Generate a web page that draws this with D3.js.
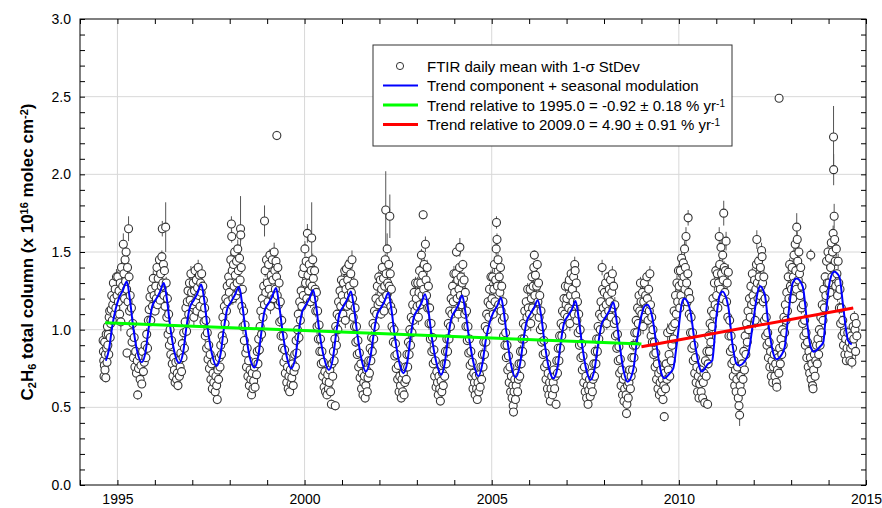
<!DOCTYPE html>
<html>
<head>
<meta charset="utf-8">
<script src="https://cdn.jsdelivr.net/npm/d3@7"></script>
<style>
  body { margin: 0; background: #fff; }
  svg { display: block; font-family: "Liberation Sans", Arial, sans-serif; }
</style>
</head>
<body>
<script>
// FTIR daily means, one array per year: [day of year, column (1e16 molec/cm2), 1-sigma StDev]
const obs1994 = [[226,.93,.03],[229,.86,.02],[232,.80,.03],[235,.70,.02],[238,.77,.03],[241,.92,.03],[244,.74,.04],[248,.84,.02],[252,.69,.03],[256,.97,.04],[260,.88,.03],[264,.79,.02],[268,1.02,.05],[272,.90,.03],[276,.97,.03],[281,.84,.02],[285,1.08,.04],[290,1.12,.03],[295,.95,.05],[300,1.04,.03],[305,1.13,.04],[310,1.22,.04],[315,1.06,.06],[320,1.16,.03],[326,1.30,.05],[332,1.20,.04],[338,1.10,.03],[344,1.26,.04],[350,1.14,.03],[356,1.34,.05],[362,1.22,.03]];
const obs1995 = [[4,1.34,.04],[10,1.18,.03],[16,1.25,.05],[22,1.10,.03],[28,1.30,.04],[34,1.05,.06],[40,1.40,.05],[46,1.22,.03],[52,1.28,.03],[58,1.55,.07],[64,1.36,.04],[70,1.20,.03],[75,1.45,.06],[80,1.31,.04],[85,1.50,.05],[90,1.26,.03],[94,.85,.03],[99,1.40,.04],[104,1.18,.05],[109,1.65,.08],[114,1.34,.05],[119,1.12,.03],[125,1.22,.04],[131,.98,.03],[137,1.14,.06],[143,.92,.03],[150,1.04,.04],[157,.82,.03],[164,.95,.03],[171,.76,.02],[178,.86,.03],[186,.72,.02],[194,.80,.03],[198,.58,.03],[206,.75,.02],[214,.83,.03],[222,.68,.02],[230,.77,.03],[238,.65,.02],[246,.86,.03],[254,.73,.02],[262,.79,.03],[270,.90,.03],[278,.82,.02],[286,.97,.04],[294,.88,.03],[302,1.06,.03],[310,1.13,.03],[318,1.21,.05],[326,1.06,.04],[334,1.26,.03],[342,1.15,.04],[350,1.33,.05],[358,1.22,.03]];
const obs1996 = [[3,1.12,.03],[9,1.28,.04],[15,1.20,.03],[21,1.40,.05],[27,1.16,.04],[33,1.33,.03],[39,1.24,.06],[45,1.45,.04],[51,1.19,.03],[57,1.36,.05],[63,1.28,.03],[69,1.47,.04],[73,1.65,.05],[78,1.30,.03],[84,1.42,.06],[89,1.22,.04],[94,1.38,.03],[100,1.15,.05],[106,1.66,.16],[111,1.30,.04],[117,1.08,.03],[123,1.20,.04],[129,.97,.03],[135,1.10,.05],[142,.90,.03],[149,1.00,.03],[156,.84,.02],[163,.93,.03],[170,.78,.02],[177,.70,.03],[184,.82,.02],[191,.74,.03],[198,.66,.02],[205,.79,.03],[212,.68,.03],[219,.72,.02],[226,.64,.03],[233,.80,.02],[240,.70,.03],[247,.76,.02],[254,.85,.03],[261,.73,.02],[268,.91,.04],[275,.82,.03],[282,.98,.03],[289,.88,.04],[296,1.05,.03],[303,1.14,.05],[310,.99,.03],[317,1.18,.04],[324,1.25,.03],[331,1.10,.05],[338,1.30,.04],[345,1.19,.03],[352,1.36,.05],[359,1.24,.04]];
const obs1997 = [[4,1.16,.03],[10,1.30,.04],[16,1.08,.05],[22,1.25,.03],[28,1.38,.04],[34,1.18,.03],[40,1.32,.05],[46,1.12,.04],[52,1.27,.03],[58,1.40,.05],[64,1.22,.03],[70,1.35,.04],[76,1.15,.06],[82,1.30,.03],[87,1.24,.04],[92,1.36,.05],[97,1.10,.03],[103,1.28,.04],[109,1.19,.03],[115,1.05,.05],[121,1.14,.03],[127,.96,.04],[133,1.06,.03],[140,.88,.02],[147,.98,.04],[154,.81,.03],[161,.90,.02],[168,.75,.03],[175,.84,.02],[182,.68,.03],[189,.78,.02],[196,.62,.03],[203,.72,.02],[210,.66,.03],[217,.80,.02],[224,.60,.03],[231,.70,.02],[238,.64,.03],[244,.55,.03],[250,.74,.02],[257,.68,.03],[264,.82,.03],[271,.76,.02],[278,.90,.04],[285,.84,.03],[292,.96,.03],[299,1.08,.04],[306,.93,.03],[313,1.15,.05],[320,1.04,.03],[327,1.20,.04],[334,1.12,.03],[341,1.28,.05],[348,1.18,.04],[355,1.34,.04],[362,1.24,.03]];
const obs1998 = [[5,1.30,.04],[11,1.45,.05],[17,1.68,.05],[20,1.60,.04],[25,1.38,.03],[31,1.20,.04],[37,1.42,.05],[43,1.28,.03],[49,1.50,.04],[55,1.35,.03],[61,1.22,.05],[67,1.44,.04],[73,1.30,.03],[79,1.52,.06],[85,1.38,.04],[90,1.25,.03],[96,1.46,.05],[102,1.32,.04],[106,1.65,.21],[108,1.61,.04],[113,1.40,.03],[118,1.15,.04],[124,1.26,.03],[130,1.02,.05],[136,1.12,.03],[143,.93,.04],[150,1.03,.03],[157,.85,.02],[164,.76,.03],[171,.88,.02],[178,.70,.03],[185,.80,.02],[192,.64,.03],[199,.74,.02],[206,.68,.03],[213,.58,.02],[220,.72,.03],[227,.62,.02],[234,.67,.03],[241,.76,.02],[248,.63,.03],[255,.79,.02],[262,.71,.03],[269,.86,.03],[276,.78,.02],[283,.94,.04],[290,.87,.03],[297,1.02,.03],[304,1.12,.05],[311,.97,.03],[318,1.20,.04],[325,1.08,.03],[332,1.28,.05],[339,1.16,.04],[340,1.70,.10],[346,1.38,.04],[352,1.24,.03],[359,1.45,.05]];
const obs1999 = [[3,1.30,.04],[9,1.18,.03],[15,1.42,.05],[21,1.26,.03],[27,1.48,.04],[33,1.15,.05],[39,1.35,.03],[45,1.22,.04],[51,1.45,.05],[57,1.32,.03],[63,1.20,.04],[69,1.50,.06],[75,1.38,.03],[81,1.26,.04],[87,1.44,.05],[92,1.34,.03],[95,2.25,.03],[99,1.22,.04],[105,1.40,.05],[111,1.16,.03],[117,1.30,.04],[123,1.05,.03],[129,1.18,.05],[136,.96,.03],[143,1.06,.04],[150,.88,.02],[157,.96,.03],[164,.79,.02],[171,.87,.03],[178,.72,.02],[185,.82,.03],[192,.66,.02],[199,.76,.03],[206,.62,.02],[213,.70,.03],[220,.60,.02],[227,.74,.03],[234,.65,.02],[241,.69,.03],[248,.78,.02],[255,.64,.03],[262,.73,.02],[269,.84,.03],[276,.76,.02],[283,.93,.04],[290,.85,.03],[297,1.00,.03],[304,1.10,.04],[311,.95,.03],[318,1.18,.05],[325,1.06,.03],[332,1.25,.04],[339,1.15,.03],[346,1.36,.05],[353,1.22,.04],[360,1.40,.04]];
const obs2000 = [[4,1.52,.05],[10,1.30,.04],[16,1.44,.03],[22,1.20,.05],[28,1.62,.06],[34,1.35,.04],[40,1.25,.03],[46,1.42,.05],[52,1.30,.03],[58,1.18,.04],[64,1.38,.05],[70,1.59,.23],[74,1.28,.03],[80,1.45,.04],[86,1.33,.03],[92,1.20,.05],[98,1.38,.04],[104,1.26,.03],[110,1.12,.04],[116,1.24,.03],[122,1.02,.05],[128,1.12,.03],[135,.94,.04],[142,1.03,.03],[149,.86,.02],[156,.94,.03],[163,.78,.02],[170,.86,.03],[177,.70,.02],[184,.79,.03],[191,.63,.02],[198,.73,.03],[205,.60,.02],[212,.67,.03],[219,.58,.02],[226,.71,.03],[233,.62,.02],[240,.66,.03],[247,.74,.02],[254,.60,.03],[262,.52,.03],[268,.78,.02],[275,.70,.03],[282,.86,.03],[289,.80,.02],[296,.94,.04],[300,.51,.03],[304,1.02,.03],[311,.90,.04],[318,1.10,.03],[325,1.00,.05],[332,1.18,.04],[339,1.08,.03],[346,1.25,.05],[353,1.15,.03],[360,1.32,.04]];
const obs2001 = [[3,1.22,.04],[9,1.10,.03],[15,1.30,.05],[21,1.18,.03],[27,1.38,.04],[33,1.06,.05],[39,1.26,.03],[44,1.39,.06],[50,1.15,.03],[56,1.32,.04],[62,1.22,.03],[68,1.42,.05],[74,1.28,.04],[80,1.16,.03],[86,1.36,.05],[92,1.24,.03],[98,1.45,.06],[104,1.20,.04],[110,1.08,.03],[116,1.30,.05],[122,1.02,.03],[128,1.14,.04],[135,.92,.03],[142,1.02,.04],[149,.84,.02],[156,.93,.03],[163,.76,.02],[170,.85,.03],[177,.69,.02],[184,.78,.03],[191,.62,.02],[198,.72,.03],[205,.58,.02],[212,.66,.03],[219,.70,.02],[226,.56,.03],[233,.64,.02],[240,.74,.03],[247,.60,.02],[254,.69,.03],[261,.80,.02],[268,.72,.03],[275,.88,.03],[282,.80,.02],[289,.95,.04],[296,.86,.03],[303,1.04,.03],[310,.94,.04],[317,1.12,.03],[324,1.02,.05],[331,1.20,.04],[338,1.10,.03],[345,1.28,.05],[352,1.16,.04],[359,1.34,.04]];
const obs2002 = [[4,1.18,.03],[10,1.32,.05],[16,1.10,.03],[22,1.26,.04],[28,1.40,.05],[34,1.20,.03],[40,1.33,.04],[46,1.12,.03],[52,1.28,.05],[57,1.45,.04],[62,1.77,.25],[66,1.36,.04],[71,1.22,.03],[76,1.52,.10],[81,1.30,.04],[86,1.18,.03],[91,1.42,.05],[96,1.28,.04],[102,1.73,.14],[106,1.36,.05],[111,1.15,.03],[117,1.26,.04],[123,1.02,.03],[129,1.12,.05],[136,.92,.03],[143,1.00,.04],[150,.83,.02],[157,.91,.03],[164,.75,.02],[171,.84,.03],[178,.68,.02],[185,.77,.03],[192,.60,.02],[199,.70,.03],[206,.64,.02],[213,.56,.03],[220,.68,.02],[227,.60,.03],[234,.72,.02],[241,.58,.03],[248,.66,.02],[255,.76,.03],[262,.68,.02],[269,.84,.03],[276,.76,.03],[283,.92,.04],[290,.84,.03],[297,1.00,.03],[304,.90,.04],[311,1.08,.03],[318,.98,.05],[325,1.16,.04],[332,1.06,.03],[339,1.24,.05],[346,1.12,.03],[353,1.30,.04],[360,1.20,.03]];
const obs2003 = [[3,1.15,.03],[9,1.30,.04],[15,1.08,.05],[21,1.24,.03],[27,1.38,.04],[33,1.16,.03],[39,1.30,.05],[45,1.48,.04],[51,1.22,.03],[57,1.35,.04],[62,1.74,.03],[67,1.26,.05],[72,1.42,.04],[78,1.18,.03],[84,1.55,.05],[90,1.32,.04],[95,1.22,.03],[101,1.40,.05],[107,1.14,.04],[113,1.28,.03],[119,1.04,.04],[125,1.14,.03],[132,.94,.05],[139,1.04,.03],[146,.86,.02],[153,.95,.03],[160,.78,.02],[167,.87,.03],[174,.70,.02],[181,.80,.03],[188,.63,.02],[195,.73,.03],[202,.66,.02],[209,.58,.03],[216,.70,.02],[223,.62,.03],[230,.54,.02],[237,.67,.03],[244,.60,.02],[251,.72,.03],[258,.64,.02],[265,.78,.03],[272,.70,.02],[279,.86,.04],[286,.78,.03],[293,.94,.03],[300,.86,.04],[307,1.04,.03],[314,.94,.05],[321,1.12,.03],[328,1.02,.04],[335,1.20,.03],[342,1.10,.05],[349,1.28,.04],[356,1.18,.03],[362,1.36,.05]];
const obs2004 = [[4,1.24,.04],[10,1.12,.03],[16,1.36,.05],[22,1.50,.03],[28,1.20,.04],[34,1.32,.03],[40,1.10,.05],[46,1.26,.04],[52,1.40,.03],[55,1.53,.06],[60,1.22,.04],[66,1.34,.03],[72,1.16,.05],[78,1.30,.04],[84,1.42,.03],[90,1.20,.04],[96,1.32,.05],[102,1.10,.03],[108,1.24,.04],[114,1.02,.03],[120,1.12,.05],[127,.93,.03],[134,1.02,.04],[141,.85,.02],[148,.94,.03],[155,.77,.02],[162,.86,.03],[169,.70,.02],[176,.79,.03],[183,.62,.02],[190,.72,.03],[197,.66,.02],[204,.58,.03],[211,.70,.02],[218,.62,.03],[225,.55,.02],[232,.66,.03],[239,.60,.02],[246,.71,.03],[253,.63,.02],[260,.76,.03],[267,.68,.02],[274,.84,.04],[281,.76,.03],[288,.92,.03],[295,.84,.04],[302,1.02,.03],[309,.92,.05],[316,1.10,.03],[323,1.00,.04],[330,1.18,.03],[337,1.08,.05],[344,1.26,.04],[351,1.16,.03],[358,1.34,.04]];
const obs2005 = [[3,1.20,.03],[9,1.34,.05],[15,1.10,.03],[21,1.26,.04],[27,1.42,.05],[33,1.18,.03],[39,1.32,.04],[44,1.52,.05],[47,1.69,.04],[52,1.58,.04],[57,1.28,.03],[62,1.45,.05],[68,1.16,.04],[74,1.34,.03],[80,1.24,.04],[86,1.40,.05],[92,1.12,.03],[98,1.28,.04],[104,1.06,.03],[110,1.18,.05],[116,.96,.03],[122,1.08,.04],[129,.90,.03],[136,.98,.04],[143,.82,.02],[150,.90,.03],[157,.74,.02],[164,.83,.03],[171,.66,.02],[178,.76,.03],[185,.60,.02],[192,.70,.03],[199,.56,.02],[206,.64,.03],[210,.51,.03],[213,.47,.03],[218,.60,.02],[225,.68,.03],[232,.55,.02],[239,.64,.03],[246,.72,.02],[253,.60,.03],[260,.68,.02],[267,.78,.03],[274,.70,.02],[281,.86,.04],[288,.78,.03],[295,.94,.03],[302,.86,.04],[309,1.04,.03],[316,.94,.05],[323,1.12,.03],[330,1.02,.04],[337,1.18,.03],[344,1.08,.05],[351,1.26,.04],[358,1.14,.03]];
const obs2006 = [[4,1.10,.03],[10,1.26,.04],[16,1.04,.05],[22,1.20,.03],[28,1.34,.04],[34,1.14,.03],[40,1.28,.05],[46,1.40,.04],[51,1.48,.03],[56,1.22,.04],[62,1.35,.03],[68,1.12,.05],[74,1.28,.04],[80,1.42,.03],[86,1.18,.04],[92,1.30,.05],[98,1.08,.03],[104,1.22,.04],[110,1.00,.03],[116,1.12,.05],[123,.92,.03],[130,1.02,.04],[137,.84,.02],[144,.93,.03],[151,.76,.02],[158,.85,.03],[165,.68,.02],[172,.78,.03],[179,.62,.02],[186,.72,.03],[193,.58,.02],[200,.66,.03],[207,.54,.02],[214,.62,.03],[221,.70,.02],[228,.58,.03],[235,.66,.02],[242,.74,.03],[249,.62,.02],[256,.70,.03],[263,.52,.03],[270,.80,.02],[277,.72,.03],[284,.88,.03],[291,.80,.04],[298,.96,.03],[305,.88,.04],[312,1.04,.03],[319,.96,.05],[326,1.12,.03],[333,1.02,.04],[340,1.20,.03],[347,1.10,.05],[354,1.28,.04],[361,1.16,.03]];
const obs2007 = [[3,1.20,.04],[9,1.08,.03],[15,1.28,.05],[21,1.14,.03],[27,1.32,.04],[33,1.04,.05],[39,1.22,.03],[45,1.36,.04],[51,1.12,.03],[57,1.26,.05],[63,1.18,.04],[69,1.34,.03],[75,1.10,.04],[80,1.42,.05],[84,1.38,.04],[89,1.22,.03],[95,1.30,.05],[101,1.06,.03],[107,1.18,.04],[113,.98,.03],[119,1.10,.05],[126,.90,.03],[133,1.00,.04],[140,.82,.02],[147,.91,.03],[154,.74,.02],[161,.83,.03],[168,.66,.02],[175,.76,.03],[182,.60,.02],[189,.70,.03],[196,.56,.02],[203,.64,.03],[210,.52,.02],[217,.61,.03],[224,.68,.02],[231,.57,.03],[238,.64,.02],[245,.72,.03],[252,.60,.02],[259,.68,.03],[266,.78,.02],[273,.70,.03],[280,.86,.04],[287,.78,.03],[294,.94,.03],[301,.86,.04],[308,1.02,.03],[315,.94,.05],[322,1.10,.03],[329,1.00,.04],[336,1.18,.03],[343,1.08,.05],[347,1.40,.05],[352,1.26,.04],[359,1.14,.03]];
const obs2008 = [[4,1.24,.04],[10,1.10,.03],[16,1.30,.05],[22,1.16,.03],[28,1.04,.04],[34,1.22,.05],[40,1.34,.03],[46,1.12,.04],[52,1.26,.03],[58,1.18,.05],[64,1.32,.04],[70,1.08,.03],[76,1.24,.04],[82,1.36,.05],[88,1.14,.03],[94,1.28,.04],[100,1.04,.03],[106,1.16,.05],[112,.96,.03],[118,1.06,.04],[125,.88,.03],[132,.97,.04],[139,.80,.02],[146,.89,.03],[153,.72,.02],[160,.81,.03],[167,.64,.02],[174,.74,.03],[181,.58,.02],[188,.68,.03],[195,.54,.02],[202,.62,.03],[209,.70,.02],[216,.58,.03],[220,.46,.03],[224,.52,.02],[230,.64,.03],[237,.56,.02],[244,.66,.03],[251,.74,.02],[258,.62,.03],[265,.70,.03],[272,.82,.02],[279,.74,.03],[286,.90,.04],[293,.82,.03],[300,.98,.03],[307,.90,.04],[314,1.06,.03],[321,.98,.05],[328,1.14,.03],[335,1.04,.04],[342,1.22,.03],[349,1.12,.05],[356,1.30,.04],[362,1.18,.03]];
const obs2009 = [[5,1.10,.03],[11,1.24,.04],[17,1.02,.05],[23,1.18,.03],[29,1.30,.04],[35,1.08,.03],[41,1.22,.05],[47,1.14,.04],[53,1.34,.03],[59,1.20,.04],[65,1.06,.05],[71,1.26,.03],[77,1.12,.04],[83,1.36,.05],[89,1.16,.03],[95,.96,.04],[101,1.08,.03],[107,.92,.05],[113,1.00,.03],[120,.84,.04],[127,.92,.03],[134,.76,.02],[141,.85,.03],[148,.68,.02],[155,.78,.03],[162,.62,.02],[169,.72,.03],[176,.58,.02],[183,.66,.03],[190,.74,.02],[197,.60,.03],[204,.68,.02],[211,.55,.03],[218,.64,.02],[223,.44,.03],[228,.72,.03],[235,.62,.02],[242,.78,.03],[249,.68,.02],[256,.98,.06],[263,.74,.03],[270,.84,.03],[277,.70,.02],[284,1.00,.05],[291,.80,.03],[298,.90,.04],[305,1.02,.03],[312,.94,.04],[319,1.12,.03],[326,1.04,.05],[333,1.22,.04],[340,1.10,.03],[347,1.30,.05],[354,1.18,.04],[361,1.38,.04]];
const obs2010 = [[3,1.28,.04],[9,1.14,.03],[15,1.38,.05],[21,1.22,.03],[27,1.46,.04],[33,1.30,.05],[39,1.18,.03],[44,1.43,.04],[50,1.34,.03],[56,1.52,.05],[60,1.26,.04],[64,1.40,.03],[70,1.60,.06],[76,1.30,.04],[82,1.18,.03],[88,1.36,.05],[91,1.72,.05],[96,1.24,.04],[102,1.10,.03],[108,1.20,.05],[114,.98,.03],[120,1.08,.04],[127,.88,.03],[134,.98,.04],[141,.80,.02],[148,.90,.03],[155,.72,.02],[162,.82,.03],[169,.66,.02],[176,.76,.03],[183,.60,.02],[190,.70,.03],[197,.56,.02],[204,.65,.03],[211,.74,.02],[218,.60,.03],[225,.68,.02],[232,.56,.03],[239,.66,.02],[246,.72,.03],[253,.53,.03],[260,.80,.02],[267,.70,.03],[274,.86,.04],[281,.52,.03],[286,.78,.03],[292,.96,.05],[298,.86,.03],[305,1.04,.04],[312,.92,.03],[319,1.12,.05],[326,1.02,.04],[333,1.20,.03],[340,1.10,.04],[347,1.30,.05],[354,1.16,.03],[361,1.38,.04]];
const obs2011 = [[4,1.22,.04],[10,1.36,.05],[16,1.14,.03],[22,1.30,.04],[29,1.60,.06],[34,1.42,.04],[40,1.26,.03],[46,1.53,.05],[52,1.36,.04],[58,1.20,.03],[63,1.48,.05],[68,1.32,.04],[73,1.75,.08],[78,1.40,.04],[84,1.24,.03],[90,1.38,.05],[96,1.57,.06],[101,1.18,.03],[107,1.30,.04],[113,1.08,.03],[118,1.37,.05],[124,.96,.03],[131,1.06,.04],[138,.86,.02],[145,.96,.03],[152,.78,.02],[159,.88,.03],[166,.70,.02],[173,.80,.03],[180,.64,.02],[187,.74,.03],[194,.60,.02],[201,.68,.03],[208,.76,.02],[215,.56,.03],[222,.51,.03],[228,.45,.07],[233,.64,.02],[240,.70,.03],[247,.60,.02],[254,.78,.03],[261,.68,.02],[268,.86,.04],[275,.74,.03],[282,.96,.05],[289,.84,.03],[296,1.04,.04],[303,.92,.03],[310,1.12,.05],[317,1.00,.04],[324,1.20,.03],[331,1.08,.04],[338,1.28,.05],[345,1.16,.03],[352,1.36,.04],[359,1.22,.03]];
const obs2012 = [[3,1.18,.04],[9,1.32,.03],[15,1.06,.05],[21,1.26,.04],[27,1.42,.05],[31,1.58,.06],[36,1.30,.04],[42,1.20,.03],[48,1.44,.05],[54,1.34,.04],[60,1.22,.03],[66,1.40,.04],[72,1.28,.05],[77,1.51,.05],[82,1.47,.04],[87,1.30,.03],[93,1.18,.04],[99,1.34,.05],[105,1.06,.03],[111,1.20,.04],[117,.96,.03],[123,1.08,.05],[130,.90,.03],[137,.98,.04],[144,.82,.02],[151,.92,.03],[158,.76,.02],[165,.86,.03],[172,.70,.02],[179,.80,.03],[186,.66,.02],[193,.76,.03],[200,.84,.02],[207,.70,.03],[214,.78,.02],[221,.66,.03],[226,.63,.02],[232,.74,.03],[239,.82,.02],[246,.72,.03],[248,2.49,.02],[253,.88,.03],[260,.78,.02],[267,.94,.04],[274,.84,.03],[281,1.00,.05],[288,.90,.03],[295,1.08,.04],[302,.98,.03],[309,1.16,.05],[316,1.06,.04],[323,1.24,.03],[330,1.12,.04],[337,1.34,.05],[344,1.20,.03],[351,1.42,.04],[358,1.28,.03]];
const obs2013 = [[4,1.26,.04],[10,1.40,.05],[16,1.20,.03],[22,1.34,.04],[28,1.48,.05],[34,1.30,.03],[40,1.55,.06],[46,1.38,.04],[52,1.26,.03],[55,1.66,.09],[60,1.58,.05],[65,1.44,.04],[70,1.32,.03],[76,1.50,.05],[82,1.36,.04],[88,1.22,.03],[94,1.40,.05],[100,1.14,.04],[106,1.28,.03],[112,1.04,.04],[118,1.16,.05],[125,.96,.03],[132,1.06,.04],[139,.90,.02],[146,.98,.03],[153,.82,.02],[160,.92,.03],[167,.76,.02],[174,.86,.03],[181,.72,.02],[188,.82,.03],[192,1.48,.04],[195,.68,.02],[202,.78,.03],[209,.64,.02],[214,.62,.03],[220,.74,.02],[227,.84,.03],[234,.70,.02],[241,.80,.03],[248,.90,.02],[255,.78,.03],[262,.94,.04],[269,.84,.03],[276,1.00,.03],[283,.90,.04],[290,1.08,.03],[297,.98,.05],[304,1.16,.04],[311,1.06,.03],[318,1.26,.05],[325,1.14,.04],[332,1.34,.03],[339,1.22,.04],[346,1.44,.05],[353,1.30,.03],[360,1.50,.04]];
const obs2014 = [[3,1.30,.04],[9,1.46,.05],[15,1.24,.03],[21,1.40,.04],[27,1.56,.05],[33,1.34,.03],[39,1.50,.04],[45,1.62,.05],[49,2.24,.20],[50,2.03,.10],[55,1.73,.08],[60,1.58,.04],[65,1.44,.03],[70,1.28,.04],[76,1.52,.05],[82,1.36,.03],[88,1.22,.04],[94,1.44,.05],[100,1.30,.03],[106,1.14,.04],[112,1.26,.03],[118,1.04,.05],[125,1.14,.03],[132,.96,.04],[139,1.06,.03],[146,.90,.02],[153,.98,.03],[160,.84,.02],[167,.94,.03],[174,.80,.02],[181,.88,.03],[188,.98,.04],[195,.84,.02],[202,.92,.03],[209,.80,.02],[216,.88,.03],[222,.96,.04],[228,.79,.04],[234,.90,.03],[240,1.02,.03],[246,.94,.02],[252,1.08,.04],[258,1.00,.03],[264,.86,.05],[270,1.04,.03],[276,.96,.04]];

// Trend component + seasonal modulation: [decimal year, value]
const seasonalFit = [
  [1994.69,0.80],[1994.78,0.88],[1994.86,1.02],[1994.95,1.13],[1995.05,1.21],[1995.14,1.25],[1995.25,1.31],[1995.33,1.20],[1995.42,1.02],[1995.52,0.87],[1995.65,0.79],
  [1995.76,0.87],[1995.84,1.02],[1995.93,1.15],[1996.04,1.20],[1996.13,1.24],[1996.24,1.30],[1996.32,1.20],[1996.41,1.02],[1996.52,0.86],[1996.65,0.785],
  [1996.76,0.86],[1996.84,1.01],[1996.93,1.14],[1997.04,1.19],[1997.13,1.23],[1997.24,1.29],[1997.32,1.19],[1997.41,1.01],[1997.52,0.85],[1997.65,0.766],
  [1997.76,0.85],[1997.84,1.00],[1997.93,1.13],[1998.04,1.18],[1998.13,1.22],[1998.25,1.277],[1998.33,1.17],[1998.42,1.00],[1998.52,0.84],[1998.66,0.757],
  [1998.77,0.84],[1998.85,0.99],[1998.93,1.12],[1999.04,1.17],[1999.13,1.21],[1999.24,1.268],[1999.32,1.16],[1999.41,0.99],[1999.52,0.83],[1999.64,0.75],
  [1999.76,0.83],[1999.84,0.98],[1999.93,1.11],[2000.04,1.16],[2000.13,1.20],[2000.23,1.255],[2000.31,1.15],[2000.40,0.98],[2000.52,0.82],[2000.65,0.74],
  [2000.76,0.82],[2000.84,0.97],[2000.93,1.10],[2001.04,1.15],[2001.13,1.19],[2001.24,1.245],[2001.32,1.14],[2001.41,0.97],[2001.52,0.81],[2001.64,0.73],
  [2001.75,0.81],[2001.84,0.96],[2001.93,1.09],[2002.04,1.14],[2002.13,1.18],[2002.24,1.238],[2002.32,1.13],[2002.41,0.96],[2002.52,0.80],[2002.64,0.72],
  [2002.75,0.80],[2002.83,0.95],[2002.92,1.08],[2003.03,1.13],[2003.12,1.17],[2003.22,1.228],[2003.31,1.12],[2003.40,0.95],[2003.52,0.79],[2003.65,0.71],
  [2003.75,0.79],[2003.83,0.94],[2003.92,1.07],[2004.02,1.12],[2004.11,1.16],[2004.21,1.22],[2004.30,1.11],[2004.40,0.94],[2004.52,0.78],[2004.64,0.70],
  [2004.75,0.78],[2004.84,0.93],[2004.95,1.05],[2005.04,1.11],[2005.14,1.15],[2005.25,1.206],[2005.33,1.10],[2005.42,0.93],[2005.52,0.77],[2005.64,0.693],
  [2005.75,0.77],[2005.84,0.92],[2005.93,1.05],[2006.03,1.10],[2006.13,1.14],[2006.23,1.19],[2006.32,1.09],[2006.41,0.92],[2006.52,0.76],[2006.65,0.687],
  [2006.76,0.76],[2006.84,0.91],[2006.93,1.04],[2007.04,1.09],[2007.14,1.13],[2007.24,1.185],[2007.32,1.08],[2007.41,0.91],[2007.52,0.75],[2007.64,0.676],
  [2007.75,0.75],[2007.84,0.90],[2007.93,1.03],[2008.04,1.08],[2008.14,1.12],[2008.25,1.176],[2008.33,1.07],[2008.42,0.90],[2008.52,0.74],[2008.63,0.665],
  [2008.78,0.74],[2008.87,0.91],[2008.99,1.08],[2009.08,1.15],[2009.16,1.16],[2009.29,1.08],[2009.41,0.89],[2009.52,0.73],[2009.61,0.687],
  [2009.76,0.72],[2009.85,0.75],[2009.92,0.86],[2009.99,1.00],[2010.08,1.17],[2010.15,1.20],[2010.30,1.127],[2010.43,0.91],[2010.56,0.75],[2010.61,0.73],
  [2010.78,0.78],[2010.89,0.80],[2011.00,1.08],[2011.09,1.22],[2011.16,1.245],[2011.32,1.15],[2011.43,0.91],[2011.54,0.78],[2011.61,0.77],
  [2011.77,0.80],[2011.86,0.85],[2011.99,1.06],[2012.12,1.255],[2012.17,1.28],[2012.30,1.22],[2012.39,1.04],[2012.52,0.85],[2012.61,0.81],
  [2012.74,0.837],[2012.83,0.89],[2012.93,1.105],[2013.04,1.30],[2013.15,1.33],[2013.31,1.277],[2013.42,1.06],[2013.52,0.89],[2013.60,0.858],
  [2013.77,0.89],[2013.86,0.92],[2013.93,1.105],[2014.04,1.32],[2014.15,1.373],[2014.29,1.34],[2014.39,1.15],[2014.52,0.93],[2014.62,0.905]
];

// Linear trends (end points)
const trend1995 = [[1994.67, 1.045], [2009.0, 0.908]];
const trend2009 = [[2009.0, 0.89], [2014.66, 1.14]];

const xTickYears = d3.range(1994, 2016);
const yTickValues = d3.range(0, 31).map(i => i / 10);
const gridYears = [1995, 2000, 2005, 2010];
const gridValues = [0.5, 1.0, 1.5, 2.0, 2.5];

const legendItems = [
  { type: 'circle', text: 'FTIR daily mean with 1-\u03c3 StDev' },
  { type: 'line', color: '#0000ff', width: 2, text: 'Trend component + seasonal modulation' },
  { type: 'line', color: '#00ff00', width: 3, text: 'Trend relative to 1995.0 = -0.92 \u00b1 0.18 % yr', sup: '-1' },
  { type: 'line', color: '#ff0000', width: 3, text: 'Trend relative to 2009.0 = 4.90 \u00b1 0.91 % yr', sup: '-1' }
];

const width = 882;
const height = 508;
const plot = { left: 80, right: 866, top: 19, bottom: 485 };

const years = { 1994: obs1994, 1995: obs1995, 1996: obs1996, 1997: obs1997, 1998: obs1998, 1999: obs1999,
  2000: obs2000, 2001: obs2001, 2002: obs2002, 2003: obs2003, 2004: obs2004, 2005: obs2005, 2006: obs2006,
  2007: obs2007, 2008: obs2008, 2009: obs2009, 2010: obs2010, 2011: obs2011, 2012: obs2012, 2013: obs2013, 2014: obs2014 };

const points = [];
Object.entries(years).forEach(([yr, rows]) => {
  rows.forEach(([doy, v, sd]) => points.push({ t: +yr + (doy - 0.5) / 365, v, sd }));
});

const svg = d3.select('body').append('svg')
  .attr('width', width)
  .attr('height', height);

const x = d3.scaleLinear().domain([1994, 2015]).range([plot.left, plot.right]);
const y = d3.scaleLinear().domain([0, 3]).range([plot.bottom, plot.top]);

// Grid
svg.append('g').selectAll('line')
  .data(gridYears)
  .enter().append('line')
  .attr('x1', d => x(d)).attr('x2', d => x(d))
  .attr('y1', plot.top).attr('y2', plot.bottom)
  .attr('stroke', '#d8d8d8');

svg.append('g').selectAll('line')
  .data(gridValues)
  .enter().append('line')
  .attr('x1', plot.left).attr('x2', plot.right)
  .attr('y1', d => y(d)).attr('y2', d => y(d))
  .attr('stroke', '#d8d8d8');

// Error bars
svg.append('g').selectAll('line')
  .data(points)
  .enter().append('line')
  .attr('x1', d => x(d.t)).attr('x2', d => x(d.t))
  .attr('y1', d => y(d.v - d.sd)).attr('y2', d => y(d.v + d.sd))
  .attr('stroke', '#555')
  .attr('stroke-width', 1);

// Daily means
svg.append('g').selectAll('circle')
  .data(points)
  .enter().append('circle')
  .attr('cx', d => x(d.t))
  .attr('cy', d => y(d.v))
  .attr('r', 4)
  .attr('fill', '#fff')
  .attr('stroke', '#333')
  .attr('stroke-width', 1.1);

const line = d3.line().x(d => x(d[0])).y(d => y(d[1]));

svg.append('path')
  .datum(seasonalFit)
  .attr('d', line.curve(d3.curveMonotoneX))
  .attr('fill', 'none')
  .attr('stroke', '#0000ff')
  .attr('stroke-width', 2);

const straight = d3.line().x(d => x(d[0])).y(d => y(d[1]));

svg.append('path')
  .datum(trend1995)
  .attr('d', straight)
  .attr('fill', 'none')
  .attr('stroke', '#00ff00')
  .attr('stroke-width', 3);

svg.append('path')
  .datum(trend2009)
  .attr('d', straight)
  .attr('fill', 'none')
  .attr('stroke', '#ff0000')
  .attr('stroke-width', 3);

// Axes, ticks pointing inwards on all four sides
const fmtY = d => (Math.abs(d * 2 - Math.round(d * 2)) < 1e-6 ? d3.format('.1f')(d) : '');
const fmtX = d => (d % 5 === 0 ? d : '');

function styleAxis(g) {
  g.select('.domain').remove();
  g.selectAll('.tick line').attr('stroke', '#000');
  g.selectAll('.tick text').attr('fill', '#000').style('font-size', '14px')
    .style('font-family', '"Liberation Sans", Arial, sans-serif');
}

svg.append('g')
  .attr('transform', `translate(0,${plot.bottom})`)
  .call(d3.axisBottom(x).tickValues(xTickYears).tickSize(-5).tickPadding(9).tickFormat(fmtX))
  .call(styleAxis);

svg.append('g')
  .attr('transform', `translate(0,${plot.top})`)
  .call(d3.axisTop(x).tickValues(xTickYears).tickSize(-5).tickFormat(''))
  .call(styleAxis);

svg.append('g')
  .attr('transform', `translate(${plot.left},0)`)
  .call(d3.axisLeft(y).tickValues(yTickValues).tickSize(-5).tickPadding(9).tickFormat(fmtY))
  .call(styleAxis);

svg.append('g')
  .attr('transform', `translate(${plot.right},0)`)
  .call(d3.axisRight(y).tickValues(yTickValues).tickSize(-5).tickFormat(''))
  .call(styleAxis);

svg.append('rect')
  .attr('x', plot.left).attr('y', plot.top)
  .attr('width', plot.right - plot.left).attr('height', plot.bottom - plot.top)
  .attr('fill', 'none')
  .attr('stroke', '#000')
  .attr('stroke-width', 1);

// Y axis title
const title = svg.append('text')
  .attr('transform', 'translate(33,252) rotate(-90)')
  .attr('text-anchor', 'middle')
  .style('font-size', '17px')
  .style('font-weight', 'bold');
title.append('tspan').text('C');
title.append('tspan').attr('baseline-shift', '-25%').style('font-size', '11px').text('2');
title.append('tspan').text('H');
title.append('tspan').attr('baseline-shift', '-25%').style('font-size', '11px').text('6');
title.append('tspan').text(' total column (x 10');
title.append('tspan').attr('baseline-shift', '45%').style('font-size', '11px').text('16');
title.append('tspan').text(' molec cm');
title.append('tspan').attr('baseline-shift', '45%').style('font-size', '11px').text('-2');
title.append('tspan').text(')');

// Legend
const legend = svg.append('g');
legend.append('rect')
  .attr('x', 373).attr('y', 45)
  .attr('width', 359).attr('height', 101)
  .attr('fill', '#fff')
  .attr('stroke', '#333')
  .attr('stroke-width', 1);

legendItems.forEach((item, i) => {
  const cy = 66 + i * 19.5;
  if (item.type === 'circle') {
    legend.append('circle')
      .attr('cx', 400).attr('cy', cy).attr('r', 3.6)
      .attr('fill', '#fff').attr('stroke', '#333');
  } else {
    legend.append('line')
      .attr('x1', 383).attr('x2', 418)
      .attr('y1', cy).attr('y2', cy)
      .attr('stroke', item.color)
      .attr('stroke-width', item.width);
  }
  const t = legend.append('text')
    .attr('x', 427).attr('y', cy + 5.5)
    .style('font-size', '15px')
    .text(item.text);
  if (item.sup) {
    t.append('tspan').attr('baseline-shift', '45%').style('font-size', '10px').text(item.sup);
  }
});
</script>
</body>
</html>
